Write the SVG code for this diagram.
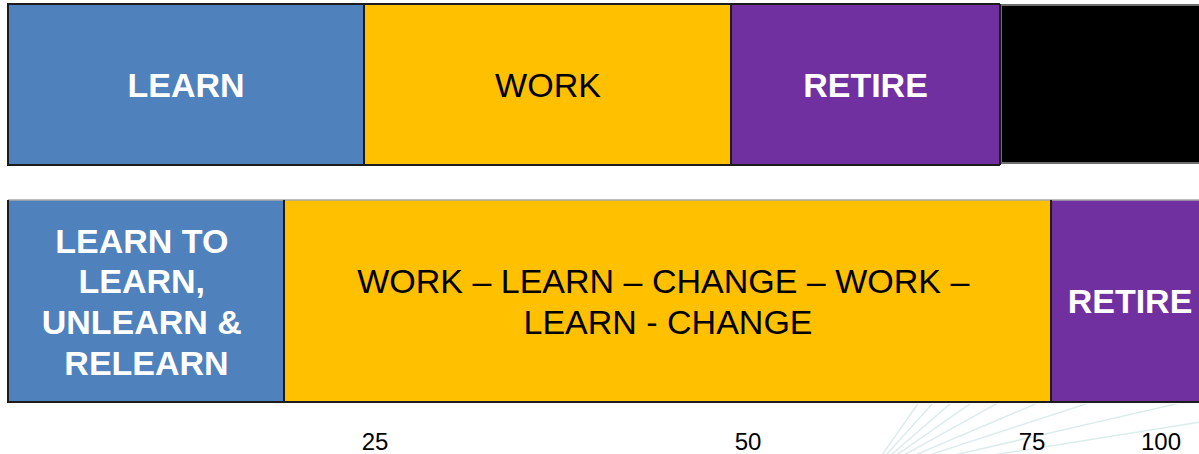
<svg xmlns="http://www.w3.org/2000/svg" width="1199" height="454" viewBox="0 0 1199 454">
  <style>
    .lbl { font-family: "Liberation Sans", Arial, sans-serif; font-size: 34px; text-anchor: middle; }
    .bold { font-weight: bold; fill: #ffffff; }
    .dark { fill: #000000; }
    .tick { font-family: "Liberation Sans", Arial, sans-serif; font-size: 24px; text-anchor: middle; fill: #000000; }
    .edge { stroke: #1c1c1c; stroke-width: 2; fill: none; }
    .ray { stroke: #dcecec; stroke-width: 1.5; fill: none; }
  </style>
  <defs>
    <clipPath id="fanClip">
      <rect x="860" y="404" width="339" height="50"/>
    </clipPath>
  </defs>

  <rect width="1199" height="454" fill="#ffffff"/>

  <!-- faint background starburst, centred just below the page edge -->
  <g id="fan" clip-path="url(#fanClip)">
    <line class="ray" x1="868" y1="475" x2="1098" y2="147"/>
    <line class="ray" x1="868" y1="475" x2="1136" y2="178"/>
    <line class="ray" x1="868" y1="475" x2="1170" y2="213"/>
    <line class="ray" x1="868" y1="475" x2="1196" y2="246"/>
    <line class="ray" x1="868" y1="475" x2="1218" y2="281"/>
    <line class="ray" x1="868" y1="475" x2="1236" y2="319"/>
    <line class="ray" x1="868" y1="475" x2="1248" y2="351"/>
    <line class="ray" x1="868" y1="475" x2="1258" y2="385"/>
    <line class="ray" x1="868" y1="475" x2="1263" y2="412"/>
  </g>

  <!-- top row: traditional life -->
  <g id="learn-top">
    <rect x="8" y="4" width="356" height="161" fill="#4f81bd"/>
    <text class="lbl bold" x="186" y="97">LEARN</text>
  </g>
  <g id="work-top">
    <rect x="364" y="4" width="367" height="161" fill="#ffc000"/>
    <text class="lbl dark" x="548" y="97">WORK</text>
  </g>
  <g id="retire-top">
    <rect x="731" y="4" width="269" height="161" fill="#7030a0"/>
    <text class="lbl bold" x="865.5" y="97">RETIRE</text>
  </g>
  <g id="end-top">
    <rect x="1001" y="5" width="210" height="158" fill="#000000" stroke="#6e6e6e" stroke-width="2"/>
  </g>

  <!-- bottom row: lifelong learning -->
  <g id="learn-bottom">
    <rect x="8" y="200" width="277" height="202" fill="#4f81bd"/>
    <text class="lbl bold" x="146.5">
      <tspan x="146.5" y="252.5">LEARN TO</tspan>
      <tspan x="146.5" y="293.3">LEARN,</tspan>
      <tspan x="146.5" y="334">UNLEARN &amp;</tspan>
      <tspan x="146.5" y="374.8">RELEARN</tspan>
    </text>
  </g>
  <g id="work-bottom">
    <rect x="285" y="200" width="766" height="202" fill="#ffc000"/>
    <text class="lbl dark" x="668">
      <tspan x="668" y="293.3">WORK – LEARN – CHANGE – WORK –</tspan>
      <tspan x="668" y="333.5">LEARN - CHANGE</tspan>
    </text>
  </g>
  <g id="retire-bottom">
    <rect x="1051" y="200" width="160" height="202" fill="#7030a0"/>
    <text class="lbl bold" x="1130" y="313">RETIRE</text>
  </g>

  <!-- outlines and dividers -->
  <g id="connectors">
    <path class="edge" d="M1000 4 H8 V165 H1000"/>
    <line class="edge" x1="364" y1="4" x2="364" y2="165"/>
    <line class="edge" x1="731" y1="4" x2="731" y2="165"/>
    <line class="edge" x1="1000" y1="4" x2="1000" y2="165"/>
    <line x1="8" y1="200" x2="1199" y2="200" stroke="#a8a8a8" stroke-width="1.5"/>
    <path class="edge" d="M8 200 V402 H1199"/>
    <line class="edge" x1="284" y1="200" x2="284" y2="402"/>
    <line class="edge" x1="1051" y1="200" x2="1051" y2="402"/>
  </g>

  <!-- age scale -->
  <g id="scale">
    <text class="tick" x="375" y="450">25</text>
    <text class="tick" x="748" y="450">50</text>
    <text class="tick" x="1032" y="450">75</text>
    <text class="tick" x="1161" y="450">100</text>
  </g>
</svg>
